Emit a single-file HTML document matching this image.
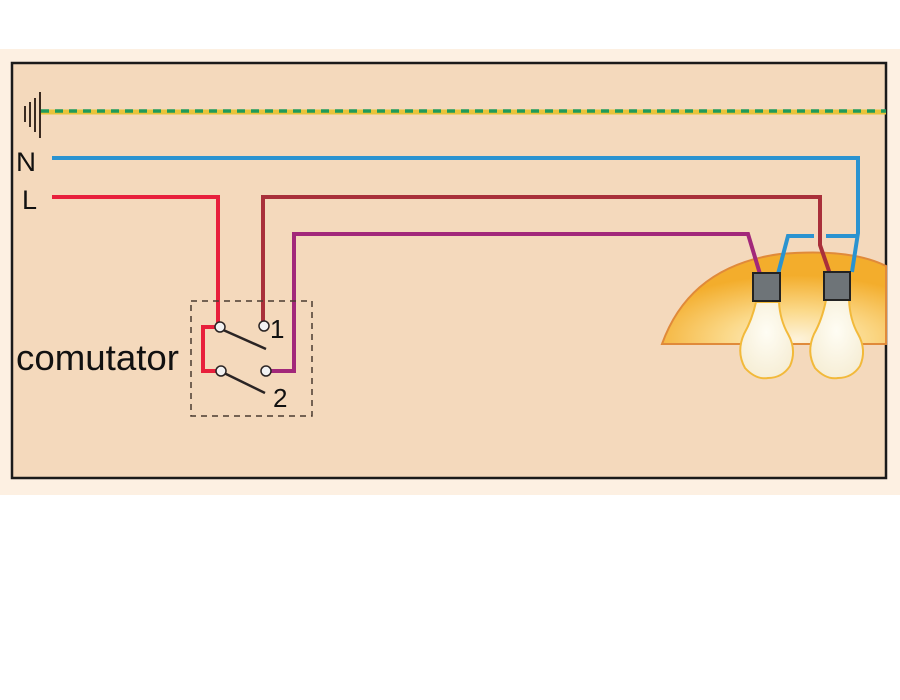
<!DOCTYPE html>
<html><head><meta charset="utf-8"><style>
html,body{margin:0;padding:0;background:#fff;width:900px;height:700px;overflow:hidden}
svg{display:block}
</style></head><body>
<svg width="900" height="700" xmlns="http://www.w3.org/2000/svg">
<defs>
<radialGradient id="dome" cx="0.6" cy="0.95" r="0.7">
<stop offset="0" stop-color="#fdf3dc"/><stop offset="0.45" stop-color="#fbd98a"/><stop offset="1" stop-color="#f3ad2c"/>
</radialGradient>
<radialGradient id="bulb" cx="0.5" cy="0.4" r="0.6">
<stop offset="0" stop-color="#fffdf4"/><stop offset="1" stop-color="#f6eed6"/>
</radialGradient>
</defs>
<rect x="0" y="49" width="900" height="446" fill="#fdf0e2"/>
<rect x="12" y="63" width="874" height="415" fill="#f4d9bc" stroke="#1a1a1a" stroke-width="2.5"/>
<g stroke="#3a2a20" stroke-width="2">
<line x1="40" y1="92" x2="40" y2="138"/>
<line x1="35" y1="98" x2="35" y2="132"/>
<line x1="30" y1="102" x2="30" y2="127"/>
<line x1="25" y1="106" x2="25" y2="122"/>
</g>
<line x1="41" y1="112" x2="886" y2="112" stroke="#e8c33a" stroke-width="5"/>
<line x1="41" y1="111" x2="886" y2="111" stroke="#1f9a5a" stroke-width="3.5" stroke-dasharray="8,6"/>
<text x="16" y="171" font-family="Liberation Sans, sans-serif" font-size="27" fill="#111" textLength="20" lengthAdjust="spacingAndGlyphs">N</text>
<text x="22" y="209" font-family="Liberation Sans, sans-serif" font-size="27" fill="#111">L</text>
<text x="16" y="370" font-family="Liberation Sans, sans-serif" font-size="36" fill="#111" textLength="163" lengthAdjust="spacingAndGlyphs">comutator</text>
<path d="M662 344 Q690 266 780 254 Q850 248 886 266 L886 344 Z" fill="url(#dome)" stroke="#e08a3a" stroke-width="2"/>
<path d="M756 302 Q752 320 744 334 Q736 352 745 368 Q756 380 768 378 Q782 378 790 366 Q797 350 788 334 Q780 320 779 302 Z" fill="url(#bulb)" stroke="#f2b93a" stroke-width="2"/>
<path d="M826 300 Q822 320 814 334 Q806 352 815 368 Q826 380 838 378 Q852 378 860 366 Q867 350 858 334 Q850 320 849 300 Z" fill="url(#bulb)" stroke="#f2b93a" stroke-width="2"/>
<g fill="none" stroke-width="4" stroke-linejoin="miter">
<polyline points="52,158 858,158 858,233 852,272" stroke="#2a93d0"/>
<polyline points="858,236 826,236" stroke="#2a93d0"/>
<polyline points="814,236 788,236 778,274" stroke="#2a93d0"/>
<polyline points="263,326 263,197 820,197 820,245 830,274" stroke="#a9303a"/>
<polyline points="52,197 218,197 218,326" stroke="#e8203c"/>
<polyline points="220,327 203,327 203,371 220,371" stroke="#e8203c"/>
<polyline points="266,371 294,371 294,234 748,234 760,274" stroke="#a2287a"/>
</g>
<rect x="753" y="273" width="27" height="28" fill="#6e7478" stroke="#222" stroke-width="2"/>
<rect x="824" y="272" width="26" height="28" fill="#6e7478" stroke="#222" stroke-width="2"/>
<rect x="191" y="301" width="121" height="115" fill="none" stroke="#4a3a30" stroke-width="1.5" stroke-dasharray="6,5"/>
<g stroke="#2a2424" stroke-width="2.5">
<line x1="221" y1="329" x2="266" y2="349"/>
<line x1="222" y1="372" x2="265" y2="393"/>
</g>
<g fill="#f2f2f2" stroke="#2a2424" stroke-width="1.5">
<circle cx="220" cy="327" r="5"/><circle cx="264" cy="326" r="5"/>
<circle cx="221" cy="371" r="5"/><circle cx="266" cy="371" r="5"/>
</g>
<text x="270" y="338" font-family="Liberation Sans, sans-serif" font-size="26" fill="#111">1</text>
<text x="273" y="407" font-family="Liberation Sans, sans-serif" font-size="26" fill="#111">2</text>
</svg>
</body></html>
